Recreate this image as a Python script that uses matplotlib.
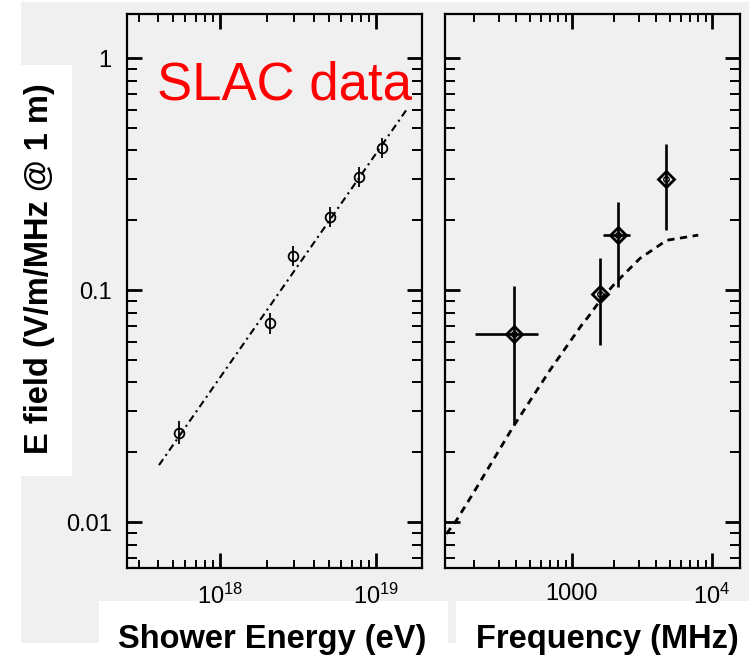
import matplotlib
matplotlib.use('Agg')
import matplotlib.pyplot as plt
from matplotlib.patches import Rectangle
from matplotlib.ticker import LogLocator, NullFormatter, FixedLocator, FixedFormatter
import numpy as np

plt.rcParams['font.family'] = ['Liberation Sans', 'DejaVu Sans']
plt.rcParams['mathtext.fontset'] = 'custom'
plt.rcParams['mathtext.rm'] = 'Liberation Sans'

# left panel: field vs shower energy
energy = np.array([5.45e17, 2.1e18, 2.96e18, 5.09e18, 7.85e18, 1.09e19])
field_e = np.array([0.0243, 0.0719, 0.140, 0.207, 0.308, 0.410])
field_e_lo = np.array([0.0217, 0.065, 0.127, 0.187, 0.279, 0.371])
field_e_hi = np.array([0.0272, 0.0795, 0.155, 0.229, 0.340, 0.453])
fit_energy = [4.06e17, 1.58e19]
fit_field = [0.0176, 0.601]

# right panel: field vs frequency
freq = np.array([385, 1585, 2143, 4670])
freq_lo = np.array([203, 1585, 1673, 4670])
freq_hi = np.array([574, 1585, 2596, 4670])
field_f = np.array([0.0646, 0.0967, 0.172, 0.300])
field_f_lo = np.array([0.0262, 0.058, 0.1033, 0.181])
field_f_hi = np.array([0.1043, 0.137, 0.240, 0.425])
model_freq = [127, 150, 197, 381, 697, 1173, 1307, 1585, 2030, 3060, 4745, 7980]
model_field = [0.0089, 0.0102, 0.0133, 0.0258, 0.0452, 0.0707, 0.0767, 0.090, 0.107, 0.137, 0.164, 0.1726]

W, H = 754, 658
gray = '#f0f0f0'
fig = plt.figure(figsize=(W / 100, H / 100), dpi=100)

def px_rect(x0, y0, x1, y1, color):
    # rectangle given in image pixels (top-left origin)
    fig.patches.append(Rectangle((x0 / W, 1 - y1 / H), (x1 - x0) / W, (y1 - y0) / H,
                                 transform=fig.transFigure, color=color, zorder=-10, lw=0))

px_rect(21, 2, 749, 643, gray)
px_rect(0, 65, 72, 476, 'white')
px_rect(99, 601, 448, 658, 'white')
px_rect(456, 601, 754, 658, 'white')

def make_ax(x0, x1):
    ax = fig.add_axes([x0 / W, 1 - 568 / H, (x1 - x0) / W, (568 - 14) / H])
    ax.set_facecolor(gray)
    ax.set_xscale('log')
    ax.set_yscale('log')
    ax.set_ylim(0.00634, 1.55)
    for s in ax.spines.values():
        s.set_linewidth(1.6)
    ax.tick_params(which='both', direction='in', top=True, right=True, labelsize=17, pad=11)
    ax.tick_params(which='major', length=11, width=2.0)
    ax.tick_params(axis='x', which='minor', length=5.5, width=1.4)
    ax.tick_params(axis='y', which='minor', length=7, width=1.4)
    ax.yaxis.set_major_locator(FixedLocator([0.01, 0.1, 1]))
    ax.yaxis.set_minor_locator(LogLocator(base=10, subs=np.arange(2, 10), numticks=10))
    ax.yaxis.set_minor_formatter(NullFormatter())
    ax.xaxis.set_minor_locator(LogLocator(base=10, subs=np.arange(2, 10), numticks=10))
    ax.xaxis.set_minor_formatter(NullFormatter())
    return ax

ax1 = make_ax(127, 422)
ax1.set_xlim(2.53e17, 1.98e19)
ax1.yaxis.set_major_formatter(FixedFormatter(['0.01', '0.1', '1']))
ax1.xaxis.set_major_locator(FixedLocator([1e18, 1e19]))
ax1.xaxis.set_major_formatter(FixedFormatter([r'$\mathregular{10^{18}}$', r'$\mathregular{10^{19}}$']))
ax1.plot(fit_energy, fit_field, color='black', lw=1.5, ls=(0, (3.5, 2, 1, 2)))
ax1.errorbar(energy, field_e, yerr=[field_e - field_e_lo, field_e_hi - field_e],
             fmt='o', ms=7, mfc='none', mec='black', mew=1.3, ecolor='black', elinewidth=1.3, capsize=0)
ax1.text(0.534, 0.845, 'SLAC data', transform=ax1.transAxes, color='red', fontsize=38,
         ha='center', va='baseline')

ax2 = make_ax(445, 740)
ax2.set_xlim(124, 15850)
ax2.yaxis.set_major_formatter(NullFormatter())
ax2.xaxis.set_major_locator(FixedLocator([1000, 10000]))
ax2.xaxis.set_major_formatter(FixedFormatter(['1000', r'$\mathregular{10^4}$']))
ax2.plot(model_freq, model_field, color='black', lw=2, ls=(0, (2.6, 2)))
ax2.errorbar(freq, field_f, xerr=[freq - freq_lo, freq_hi - freq],
             yerr=[field_f - field_f_lo, field_f_hi - field_f],
             fmt='none', ecolor='black', elinewidth=1.9, capsize=0)
ax2.plot(freq, field_f, 'D', ms=8, mfc='none', mec='black', mew=2)
ax2.plot(freq, field_f, 'o', ms=4, mfc='none', mec='black', mew=1)

lab = dict(fontsize=23.5, fontweight='bold')
fig.text(272 / W, 1 - 648 / H, 'Shower Energy (eV)', ha='center', va='baseline', **lab)
fig.text(607 / W, 1 - 648 / H, 'Frequency (MHz)', ha='center', va='baseline', **lab)
fig.text(40 / W, 1 - 269 / H, 'E field (V/m/MHz @ 1 m)', rotation=90, ha='center', va='center', **lab)

fig.savefig('out.png', dpi=100)
